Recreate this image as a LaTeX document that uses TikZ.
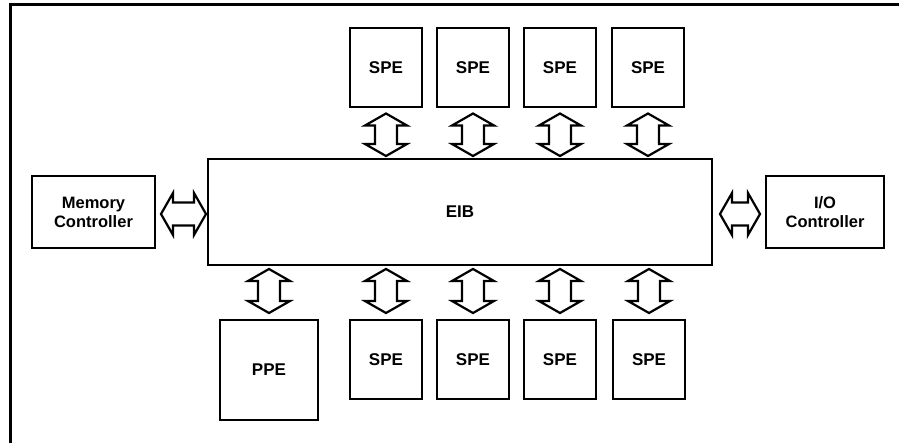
\documentclass[tikz,border=0pt]{standalone}
\usepackage{fontspec}
\setmainfont{Liberation Sans}
\usetikzlibrary{calc}
\begin{document}
\begin{tikzpicture}[x=1pt,y=-1pt,
  blk/.style={draw,line width=2pt,inner sep=0pt,font=\bfseries\fontsize{17}{19}\selectfont},
  spe/.style={blk,minimum width=72pt,minimum height=79pt},
  ctl/.style={blk,align=center,font=\bfseries\fontsize{16.5}{19}\selectfont},
  arr/.style={draw,line width=2.2pt,line join=miter,fill=white},
  frame/.style={line width=3pt}]
\useasboundingbox (0,0) rectangle (899,443);
% frame (cropped at right and bottom)
\coordinate (fl) at (10,443);
\coordinate (fc) at (10,5);
\coordinate (fr) at (899,5);
\draw[frame] (fl) -- (fc) -- (fr);
% blocks
\node[blk,minimum width=504pt,minimum height=106pt] (eib) at (460,212) {EIB};
\node[ctl,minimum width=123pt,minimum height=72pt] (mc) at (93.5,212) {Memory\\Controller};
\node[ctl,minimum width=118pt,minimum height=72pt] (io) at (825,212) {I/O\\Controller};
\node[spe] (t1) at (386,68) {SPE};
\node[spe] (t2) at (473,68) {SPE};
\node[spe] (t3) at (560,68) {SPE};
\node[spe] (t4) at (648,68) {SPE};
\node[blk,minimum width=98pt,minimum height=100pt] (ppe) at (269,370) {PPE};
\node[spe] (b1) at (386,359.5) {SPE};
\node[spe] (b2) at (473,359.5) {SPE};
\node[spe] (b3) at (560,359.5) {SPE};
\node[spe] (b4) at (649,359.5) {SPE};
% vertical double arrow: #1 top tip, #2 bottom tip
\newcommand\vdarr[2]{%
  \path[arr] let \p1=#1, \p2=#2 in
    (\p1) -- ++(21pt,-12pt) -- ++(-10pt,0pt) -- (\x1+11pt,\y2+12pt) -- ++(10pt,0pt)
    -- (\x1,\y2) -- ++(-21pt,12pt) -- ++(10pt,0pt) -- (\x1-11pt,\y1-12pt)
    -- ++(-10pt,0pt) -- cycle;}
% horizontal double arrow: #1 left tip, #2 right tip
\newcommand\hdarr[2]{%
  \path[arr] let \p1=#1, \p2=#2 in
    (\p1) -- ++(12pt,21pt) -- ++(0pt,-9.5pt) -- (\x2-12pt,\y1+11.5pt) -- ++(0pt,9.5pt)
    -- (\x2,\y1) -- ++(-12pt,-21pt) -- ++(0pt,9.5pt) -- (\x1+12pt,\y1-11.5pt)
    -- ++(0pt,-9.5pt) -- cycle;}
\foreach \nm in {t1,t2,t3,t4}{
  \vdarr{($(\nm.south)+(0,5)$)}{($(\nm.south |- eib.north)+(0,-2)$)}}
\foreach \nm in {ppe,b1,b2,b3,b4}{
  \vdarr{($(\nm.north |- eib.south)+(0,3)$)}{($(\nm.north)+(0,-6)$)}}
\hdarr{($(mc.east)+(5,2)$)}{($(eib.west)+(-1,2)$)}
\hdarr{($(eib.east)+(7,2)$)}{($(io.west)+(-5,2)$)}
\end{tikzpicture}
\end{document}
